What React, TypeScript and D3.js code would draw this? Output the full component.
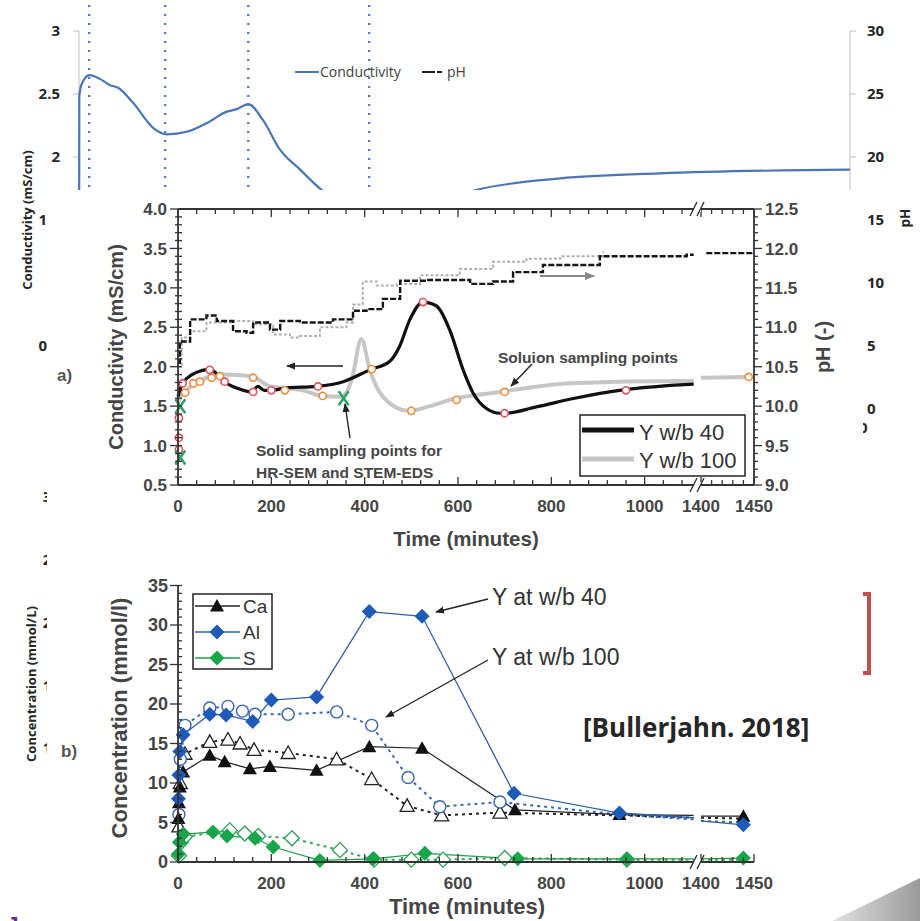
import React from 'react';
import * as d3 from 'd3';

// ---------------- background slide chart (Excel) ----------------
const bgCondTime = [0, 0.6, 5, 20, 39, 58, 73, 101, 139, 164, 201, 239, 276, 295, 316, 344, 375, 413, 453, 520, 600, 680, 743, 899, 1085, 1440];
const bgCondValue = [1.0, 2.48, 2.58, 2.65, 2.62, 2.57, 2.55, 2.43, 2.23, 2.18, 2.2, 2.27, 2.36, 2.38, 2.42, 2.29, 2.06, 1.9, 1.74, 1.62, 1.6, 1.66, 1.74, 1.83, 1.87, 1.9];
const bgSampleTimes = [19, 161, 316, 542];
const bgLeftTicks = [3, 2.5, 2, 1.5, 1, 0.5];
const bgRightTicks = [30, 25, 20, 15, 10, 5, 0];
const bgConcTicks = [30, 25, 20, 15, 10];

// ---------------- chart a) conductivity / pH ----------------
const condW40: [number, number][] = [
  [0, 1.62], [5, 1.72], [10, 1.79], [30, 1.9], [50, 1.95], [68, 1.97], [85, 1.9], [100, 1.81], [130, 1.72],
  [158, 1.68], [171, 1.75], [185, 1.7], [200, 1.7], [230, 1.73], [297, 1.75], [354, 1.81], [411, 1.96],
  [454, 2.07], [475, 2.26], [497, 2.6], [525, 2.82], [554, 2.77], [582, 2.47], [611, 1.96], [632, 1.67],
  [661, 1.47], [690, 1.41], [700, 1.41], [768, 1.49], [850, 1.6], [946, 1.7], [1075, 1.77], [1105, 1.78],
];
const condW100: [number, number][] = [
  [0, 1.55], [5, 1.62], [15, 1.67], [33, 1.79], [51, 1.83], [68, 1.88], [97, 1.9], [158, 1.88], [197, 1.75],
  [229, 1.73], [268, 1.7], [308, 1.63], [350, 1.62], [372, 1.83], [393, 2.35], [411, 1.96], [439, 1.62],
  [493, 1.44], [540, 1.5], [589, 1.59], [690, 1.68], [840, 1.79], [1081, 1.82], [1105, 1.82],
  [1400, 1.86], [1445, 1.87],
];
const phW40: [number, number][] = [
  [0, 10.55], [4, 10.82], [26, 11.1], [61, 11.15], [83, 11.08], [118, 10.95], [147, 10.93], [161, 11.06],
  [197, 10.97], [219, 11.08], [261, 11.06], [332, 11.1], [375, 11.21], [404, 11.23], [439, 11.36],
  [476, 11.59], [533, 11.6], [626, 11.55], [675, 11.58], [718, 11.7], [782, 11.79], [904, 11.9],
  [1033, 11.9], [1090, 11.92], [1105, 11.92], [1405, 11.94], [1450, 11.93],
];
const phW100: [number, number][] = [
  [0, 10.5], [8, 10.87], [26, 10.95], [61, 11.06], [118, 11.08], [161, 11.04], [204, 10.91], [240, 10.87],
  [261, 10.89], [304, 11.0], [361, 11.06], [375, 11.29], [396, 11.58], [426, 11.53], [469, 11.55],
  [519, 11.66], [604, 11.74], [675, 11.83], [747, 11.87], [819, 11.9], [911, 11.96],
];
const sampW40: [number, number][] = [
  [2, 0.95], [2, 1.1], [2, 1.35], [10, 1.79], [68, 1.96], [100, 1.81], [161, 1.68], [200, 1.7], [300, 1.75],
  [525, 2.82], [700, 1.41], [960, 1.7],
];
const sampW100: [number, number][] = [
  [15, 1.67], [33, 1.79], [47, 1.81], [72, 1.86], [90, 1.88], [161, 1.86], [229, 1.7], [310, 1.63],
  [415, 1.97], [500, 1.44], [597, 1.58], [700, 1.68], [1445, 1.87],
];
const solidSamples: [number, number][] = [[5, 1.5], [5, 0.85], [355, 1.6]];

// ---------------- chart b) concentrations ----------------
const al40: [number, number][] = [
  [1, 8], [2, 11], [4, 14], [11, 16.1], [68, 18.7], [103, 18.6], [160, 17.8], [200, 20.5], [297, 20.9],
  [410, 31.7], [523, 31.1], [720, 8.7], [946, 6.2], [1105, 5.6], [1400, 5.2], [1440, 4.7],
];
const ca40: [number, number][] = [
  [1, 5.5], [2, 7.5], [4, 9.5], [11, 11.4], [68, 13.5], [100, 12.7], [154, 11.8], [197, 12.1], [297, 11.6],
  [410, 14.6], [523, 14.4], [722, 6.6], [946, 6.0], [1105, 5.9], [1400, 5.8], [1440, 5.8],
];
const s40: [number, number][] = [
  [1, 1], [3, 2.5], [11, 3.5], [75, 3.8], [105, 3.3], [165, 3.0], [204, 1.9], [304, 0.2], [418, 0.4],
  [529, 1.1], [728, 0.4], [962, 0.4], [1105, 0.4], [1400, 0.4], [1440, 0.5],
];
const al100: [number, number][] = [
  [2, 6], [5, 13], [15, 17.3], [68, 19.5], [107, 19.7], [138, 19.1], [165, 18.7], [236, 18.7], [340, 19.0],
  [415, 17.3], [493, 10.7], [561, 7.0], [690, 7.6], [946, 6.0], [1105, 5.4], [1400, 5.2], [1440, 5.0],
];
const ca100: [number, number][] = [
  [2, 4.5], [5, 10], [15, 13.7], [68, 15.2], [107, 15.5], [133, 15.0], [163, 14.2], [236, 13.8], [340, 13.0],
  [415, 10.5], [491, 7.1], [565, 5.9], [690, 6.25], [946, 5.9], [1105, 5.6], [1400, 5.6], [1440, 5.5],
];
const s100: [number, number][] = [
  [2, 0.8], [6, 2.5], [15, 3.2], [111, 4.0], [143, 3.6], [172, 3.3], [244, 3.0], [347, 1.5], [420, 0.3],
  [500, 0.3], [568, 0.3], [700, 0.5], [962, 0.3], [1105, 0.3], [1400, 0.3], [1440, 0.3],
];

const xTickLabels = [0, 200, 400, 600, 800, 1000, 1400, 1450];
const condTicks = [0.5, 1.0, 1.5, 2.0, 2.5, 3.0, 3.5, 4.0];
const phTicks = [9.0, 9.5, 10.0, 10.5, 11.0, 11.5, 12.0, 12.5];
const concTicks = [0, 5, 10, 15, 20, 25, 30, 35];
const legendB = ['Ca', 'Al', 'S'];

const EXCEL = "'Open Sans', 'DejaVu Sans', sans-serif";
const PAPER = "'Liberation Sans', Arial, sans-serif";
const TXT = '#454545';

export default function App() {
  // scales
  const xE = d3.scaleLinear().domain([0, 1440]).range([79, 850]);
  const yE = d3.scaleLinear().domain([0, 3]).range([409, 31]);
  const yE2 = d3.scaleLinear().domain([0, 30]).range([409, 31]);
  const yE3 = d3.scaleLinear().domain([10, 30]).range([748, 497]);

  const x1 = d3.scaleLinear().domain([0, 1110]).range([178, 696]);
  const x2 = d3.scaleLinear().domain([1400, 1450]).range([701, 754]);
  const xT = (t: number) => (t < 1200 ? x1(t) : x2(t));
  const yA = d3.scaleLinear().domain([0.5, 4]).range([485, 209]);
  const yP = d3.scaleLinear().domain([9, 12.5]).range([485, 209]);
  const yB = d3.scaleLinear().domain([0, 35]).range([862, 585.5]);

  const seg = (d: [number, number][]) => [d.filter((p) => p[0] < 1200), d.filter((p) => p[0] >= 1200)];
  const mk = (ys: any, curve: any) =>
    d3.line<[number, number]>().x((p) => xT(p[0])).y((p) => ys(p[1])).curve(curve);
  const paths = (d: [number, number][], ys: any, curve: any) =>
    seg(d).filter((s) => s.length > 1).map((s) => mk(ys, curve)(s) as string);

  const bgLine = d3
    .line<number>()
    .x((_, i) => xE(bgCondTime[i]))
    .y((v) => yE(v))
    .curve(d3.curveMonotoneX)(bgCondValue) as string;

  // tick sets for broken time axis
  const minor1 = d3.range(0, 1081, 40);
  const minor2 = d3.range(1400, 1451, 10);
  const isMajor = (t: number) => t % 200 === 0 || t === 1400 || t === 1450;
  const minorCond = d3.range(0, 36).map((i) => 0.5 + i * 0.1);
  const minorPh = d3.range(0, 36).map((i) => 9 + i * 0.1);
  const minorConc = d3.range(0, 36);

  const tri = 'M0,-7 L7,5.5 L-7,5.5Z';
  const dia = 'M0,-7.5 L7.5,0 L0,7.5 L-7.5,0Z';

  const breakMarks = (y: number, key: string) => (
    <g key={key}>
      <rect x={695} y={y - 3} width={6} height={6} fill="#fff" />
      <line x1={690} y1={y + 7} x2={697} y2={y - 7} stroke="#333" strokeWidth={1.4} />
      <line x1={697} y1={y + 7} x2={704} y2={y - 7} stroke="#333" strokeWidth={1.4} />
    </g>
  );

  return (
    <svg width={920} height={921} style={{ position: 'absolute', left: 0, top: 0, background: '#fff' }}>
      <defs>
        <marker id="ahB" viewBox="0 0 10 10" refX="9" refY="5" markerWidth="9" markerHeight="9" markerUnits="userSpaceOnUse" orient="auto">
          <path d="M0,1 L10,5 L0,9 z" fill="#222" />
        </marker>
        <marker id="ahG" viewBox="0 0 10 10" refX="9" refY="5" markerWidth="10" markerHeight="10" markerUnits="userSpaceOnUse" orient="auto">
          <path d="M0,1 L10,5 L0,9 z" fill="#888" />
        </marker>
        <linearGradient id="curl" x1="0" y1="0" x2="1" y2="0">
          <stop offset="0" stopColor="#e2e2e2" />
          <stop offset="1" stopColor="#9a9a9a" />
        </linearGradient>
      </defs>

      {/* ---------- background Excel chart ---------- */}
      <g fontFamily={EXCEL}>
        {bgSampleTimes.map((t) => (
          <line key={t} x1={xE(t)} x2={xE(t)} y1={5} y2={190} stroke="#4472c4" strokeWidth={2.2} strokeDasharray="2,7" />
        ))}
        <line x1={79} x2={79} y1={31} y2={409} stroke="#bfbfbf" strokeWidth={1} />
        <line x1={850} x2={850} y1={31} y2={409} stroke="#bfbfbf" strokeWidth={1} />
        {bgLeftTicks.map((v) => (
          <g key={v}>
            <line x1={73} x2={79} y1={yE(v)} y2={yE(v)} stroke="#bfbfbf" />
            <text x={60} y={yE(v)} dy="0.35em" textAnchor="end" fontSize={15} fontWeight="bold" fill="#262626">{v}</text>
          </g>
        ))}
        {bgRightTicks.map((v) => (
          <g key={v}>
            <line x1={850} x2={856} y1={yE2(v)} y2={yE2(v)} stroke="#bfbfbf" />
            <text x={867} y={yE2(v)} dy="0.35em" fontSize={15} fontWeight="bold" fill="#262626">{v}</text>
          </g>
        ))}
        <path d={bgLine} fill="none" stroke="#4a76b8" strokeWidth={2.2} />
        <line x1={295} x2={319} y1={72} y2={72} stroke="#4a76b8" strokeWidth={2} />
        <text x={320} y={72} dy="0.35em" fontSize={14} fill="#404040">Conductivity</text>
        <line x1={422} x2={443} y1={72} y2={72} stroke="#222" strokeWidth={2} strokeDasharray="13,2,5,2" />
        <text x={447} y={72} dy="0.35em" fontSize={14} fill="#404040">pH</text>
        <text transform="translate(27,220) rotate(-90)" textAnchor="middle" dy="0.35em" fontSize={13} fontWeight="bold" fill="#262626">Conductivity (mS/cm)</text>
        <text transform="translate(905,218) rotate(-90)" textAnchor="middle" dy="0.35em" fontSize={13.5} fontWeight="bold" fill="#262626">pH</text>
        {bgConcTicks.map((v) => (
          <text key={v} x={60} y={yE3(v)} dy="0.35em" textAnchor="end" fontSize={15} fontWeight="bold" fill="#262626">{v}</text>
        ))}
        <text x={859} y={428} dy="0.35em" fontSize={15} fontWeight="bold" fill="#262626">0</text>
        <text transform="translate(31,684) rotate(-90)" textAnchor="middle" dy="0.35em" fontSize={13} fontWeight="bold" fill="#262626">Concentration (mmol/L)</text>
      </g>

      {/* pasted figure background */}
      <rect x={47} y={190} width={816} height={731} fill="#fff" />

      {/* ---------- chart a ---------- */}
      <g fontFamily={PAPER}>
        {/* pH lines */}
        {paths(phW100, yP, d3.curveStepAfter).map((d, i) => (
          <path key={'pg' + i} d={d} fill="none" stroke="#b0b0b0" strokeWidth={2} strokeDasharray="3,2" />
        ))}
        {paths(phW40, yP, d3.curveStepAfter).map((d, i) => (
          <path key={'pb' + i} d={d} fill="none" stroke="#151515" strokeWidth={2.4} strokeDasharray="6,2" />
        ))}
        {/* conductivity lines */}
        {paths(condW100, yA, d3.curveMonotoneX).map((d, i) => (
          <path key={'cg' + i} d={d} fill="none" stroke="#c6c6c6" strokeWidth={4} />
        ))}
        {paths(condW40, yA, d3.curveMonotoneX).map((d, i) => (
          <path key={'cb' + i} d={d} fill="none" stroke="#111" strokeWidth={3.2} />
        ))}
        {sampW100.map((p, i) => (
          <circle key={'o' + i} cx={xT(p[0])} cy={yA(p[1])} r={3.6} fill="#fff" stroke="#f08a3c" strokeWidth={1.6} />
        ))}
        {sampW40.map((p, i) => (
          <circle key={'r' + i} cx={xT(p[0])} cy={yA(p[1])} r={3.6} fill="#fff" stroke="#e4505a" strokeWidth={1.6} />
        ))}
        {solidSamples.map((p, i) => {
          const cx = xT(p[0]), cy = yA(p[1]);
          return (
            <g key={'x' + i} stroke="#2fa36b" strokeWidth={2.6}>
              <line x1={cx - 5} y1={cy - 7} x2={cx + 5} y2={cy + 7} />
              <line x1={cx + 5} y1={cy - 7} x2={cx - 5} y2={cy + 7} />
            </g>
          );
        })}

        {/* frame */}
        <g stroke="#333" strokeWidth={1.8}>
          <line x1={178} x2={178} y1={209} y2={485} />
          <line x1={754} x2={754} y1={209} y2={485} />
          <line x1={178} x2={694} y1={485} y2={485} />
          <line x1={700} x2={754} y1={485} y2={485} />
          <line x1={178} x2={694} y1={209} y2={209} />
          <line x1={700} x2={754} y1={209} y2={209} />
        </g>
        <g stroke="#333" strokeWidth={1.3}>
          {[...minor1, ...minor2].map((t) => {
            const len = isMajor(t) ? 8 : 5;
            return (
              <g key={'xt' + t}>
                <line x1={xT(t)} x2={xT(t)} y1={485} y2={485 - len} />
                <line x1={xT(t)} x2={xT(t)} y1={209} y2={209 + len} />
              </g>
            );
          })}
          {minorCond.map((v, i) => (
            <line key={'lc' + i} x1={i % 5 === 0 ? 170 : 175} x2={182} y1={yA(v)} y2={yA(v)} />
          ))}
          {minorPh.map((v, i) => (
            <line key={'rp' + i} x1={754} x2={i % 5 === 0 ? 762 : 758} y1={yP(v)} y2={yP(v)} />
          ))}
        </g>
        {breakMarks(485, 'ba')}
        {breakMarks(209, 'bt')}
        {condTicks.map((v) => (
          <text key={'cl' + v} x={167} y={yA(v)} dy="0.36em" textAnchor="end" fontSize={17} fontWeight="bold" fill={TXT}>{v.toFixed(1)}</text>
        ))}
        {phTicks.map((v) => (
          <text key={'pl' + v} x={765} y={yP(v)} dy="0.36em" fontSize={17} fontWeight="bold" fill={TXT}>{v.toFixed(1)}</text>
        ))}
        {xTickLabels.map((t) => (
          <text key={'xl' + t} x={xT(t)} y={512} textAnchor="middle" fontSize={17} fontWeight="bold" fill={TXT}>{t}</text>
        ))}
        <text x={466} y={546} textAnchor="middle" fontSize={20.5} fontWeight="bold" fill={TXT}>Time (minutes)</text>
        <text transform="translate(116,347) rotate(-90)" textAnchor="middle" dy="0.35em" fontSize={20} fontWeight="bold" fill={TXT}>Conductivity (mS/cm)</text>
        <text transform="translate(823,347) rotate(-90)" textAnchor="middle" dy="0.35em" fontSize={20} fontWeight="bold" fill={TXT}>pH (-)</text>
        <text x={57} y={381} fontSize={17} fontWeight="bold" fill="#555">a)</text>

        {/* annotations */}
        <line x1={343} y1={366} x2={287} y2={366} stroke="#222" strokeWidth={1.5} markerEnd="url(#ahB)" />
        <line x1={540} y1={276} x2={594} y2={276} stroke="#888" strokeWidth={1.8} markerEnd="url(#ahG)" />
        <line x1={350} y1={438} x2={345} y2={404} stroke="#222" strokeWidth={1.4} markerEnd="url(#ahB)" />
        <line x1={532} y1={364} x2={511} y2={386} stroke="#222" strokeWidth={1.4} markerEnd="url(#ahB)" />
        <text x={256} y={456} fontSize={15.5} fontWeight="bold" fill={TXT}>Solid sampling points for</text>
        <text x={256} y={478} fontSize={15.5} fontWeight="bold" fill={TXT}>HR-SEM and STEM-EDS</text>
        <text x={498} y={363} fontSize={15.5} fontWeight="bold" fill={TXT}>Soluion sampling points</text>

        {/* legend a */}
        <rect x={580} y={415} width={165} height={61} fill="#fff" stroke="#222" strokeWidth={1.5} />
        <line x1={582} x2={634} y1={430} y2={430} stroke="#111" strokeWidth={5} />
        <line x1={582} x2={634} y1={459} y2={459} stroke="#c6c6c6" strokeWidth={5} />
        <text x={639} y={440} fontSize={22} fill="#333">Y w/b 40</text>
        <text x={639} y={468} fontSize={22} fill="#333">Y w/b 100</text>
      </g>

      {/* ---------- chart b ---------- */}
      <g fontFamily={PAPER}>
        {paths(s100, yB, d3.curveLinear).map((d, i) => (
          <path key={'s1' + i} d={d} fill="none" stroke="#36a85a" strokeWidth={2} strokeDasharray="3,4" />
        ))}
        {paths(ca100, yB, d3.curveLinear).map((d, i) => (
          <path key={'c1' + i} d={d} fill="none" stroke="#222" strokeWidth={2} strokeDasharray="3,4" />
        ))}
        {paths(al100, yB, d3.curveLinear).map((d, i) => (
          <path key={'a1' + i} d={d} fill="none" stroke="#3865b5" strokeWidth={2} strokeDasharray="3,4" />
        ))}
        {paths(s40, yB, d3.curveLinear).map((d, i) => (
          <path key={'s4' + i} d={d} fill="none" stroke="#1d9e4a" strokeWidth={1.2} />
        ))}
        {paths(ca40, yB, d3.curveLinear).map((d, i) => (
          <path key={'c4' + i} d={d} fill="none" stroke="#222" strokeWidth={1.2} />
        ))}
        {paths(al40, yB, d3.curveLinear).map((d, i) => (
          <path key={'a4' + i} d={d} fill="none" stroke="#2f5ea8" strokeWidth={1.3} />
        ))}
        {s100.filter((p) => p[0] < 1100).map((p, i) => (
          <path key={'ms1' + i} d={dia} transform={`translate(${xT(p[0])},${yB(p[1])})`} fill="#fff" stroke="#2a9d55" strokeWidth={1.3} />
        ))}
        {ca100.filter((p) => p[0] < 900).map((p, i) => (
          <path key={'mc1' + i} d={tri} transform={`translate(${xT(p[0])},${yB(p[1])})`} fill="#fff" stroke="#222" strokeWidth={1.3} />
        ))}
        {al100.filter((p) => p[0] < 900).map((p, i) => (
          <circle key={'ma1' + i} cx={xT(p[0])} cy={yB(p[1])} r={6} fill="#fff" stroke="#3865b5" strokeWidth={1.4} />
        ))}
        {s40.filter((p) => p[0] !== 1105 && p[0] !== 1400).map((p, i) => (
          <path key={'ms4' + i} d={dia} transform={`translate(${xT(p[0])},${yB(p[1])})`} fill="#19a64a" />
        ))}
        {ca40.filter((p) => p[0] !== 1105 && p[0] !== 1400).map((p, i) => (
          <path key={'mc4' + i} d={tri} transform={`translate(${xT(p[0])},${yB(p[1])})`} fill="#111" />
        ))}
        {al40.filter((p) => p[0] !== 1105 && p[0] !== 1400).map((p, i) => (
          <path key={'ma4' + i} d={dia} transform={`translate(${xT(p[0])},${yB(p[1])})`} fill="#1e5bb8" />
        ))}

        {/* axes b */}
        <g stroke="#333" strokeWidth={1.8}>
          <line x1={178} x2={178} y1={585} y2={862} />
          <line x1={178} x2={694} y1={862} y2={862} />
          <line x1={700} x2={754} y1={862} y2={862} />
        </g>
        <g stroke="#333" strokeWidth={1.3}>
          {[...minor1, ...minor2].map((t) => (
            <line key={'bx' + t} x1={xT(t)} x2={xT(t)} y1={862} y2={862 - (isMajor(t) ? 8 : 5)} />
          ))}
          {minorConc.map((v) => (
            <line key={'by' + v} x1={v % 5 === 0 ? 170 : 178} x2={182} y1={yB(v)} y2={yB(v)} />
          ))}
        </g>
        {breakMarks(862, 'bb')}
        {concTicks.map((v) => (
          <text key={'yl' + v} x={168} y={yB(v)} dy="0.36em" textAnchor="end" fontSize={18} fontWeight="bold" fill={TXT}>{v}</text>
        ))}
        {xTickLabels.map((t) => (
          <text key={'xb' + t} x={xT(t)} y={889} textAnchor="middle" fontSize={17} fontWeight="bold" fill={TXT}>{t}</text>
        ))}
        <text x={467} y={914} textAnchor="middle" fontSize={22} fontWeight="bold" fill={TXT}>Time (minutes)</text>
        <text transform="translate(119,718) rotate(-90)" textAnchor="middle" dy="0.35em" fontSize={22} fontWeight="bold" fill={TXT}>Concentration (mmol/l)</text>
        <text x={61} y={757} fontSize={17} fontWeight="bold" fill="#555">b)</text>

        {/* legend b */}
        <rect x={193} y={594} width={79} height={75} fill="#fff" stroke="#222" strokeWidth={1.5} />
        {legendB.map((name, i) => {
          const y = 606 + i * 26;
          const col = i === 0 ? '#222' : i === 1 ? '#2f5ea8' : '#1d9e4a';
          const fill = i === 0 ? '#111' : i === 1 ? '#1e5bb8' : '#19a64a';
          return (
            <g key={name}>
              <line x1={195} x2={240} y1={y} y2={y} stroke={col} strokeWidth={1.3} />
              <path d={i === 0 ? tri : dia} transform={`translate(217,${y})`} fill={fill} />
              <text x={243} y={y + 7} fontSize={19} fill="#333">{name}</text>
            </g>
          );
        })}

        <text x={492} y={605} fontSize={23} fill="#333">Y at w/b 40</text>
        <text x={492} y={665} fontSize={23} fill="#333">Y at w/b 100</text>
        <line x1={488} y1={599} x2={436} y2={612} stroke="#222" strokeWidth={1.3} markerEnd="url(#ahB)" />
        <line x1={488} y1={660} x2={386} y2={717} stroke="#222" strokeWidth={1.3} markerEnd="url(#ahB)" />
      </g>

      {/* slide overlays */}
      <text x={583} y={737} fontFamily={EXCEL} fontSize={26} fontWeight="bold" fill="#262626">[Bullerjahn. 2018]</text>
      <path d="M863,594 L869,594 L869,673 L863,673" fill="none" stroke="#c0504d" strokeWidth={4} />
      <polygon points="832,921 920,878 920,921" fill="url(#curl)" />
      <text x={-4} y={934} fontFamily={EXCEL} fontSize={24} fontWeight="bold" fill="#5b2d90">o]</text>
    </svg>
  );
}
